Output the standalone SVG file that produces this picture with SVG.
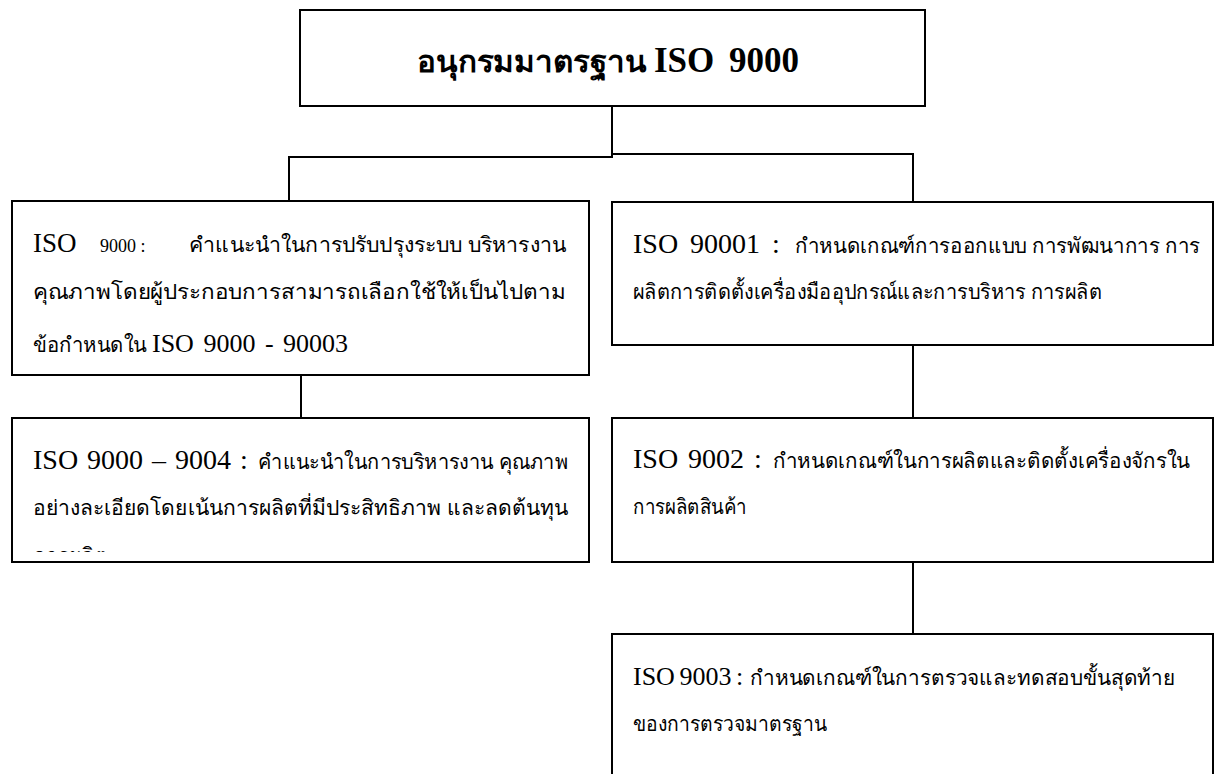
<svg xmlns="http://www.w3.org/2000/svg" width="1216" height="774" viewBox="0 0 1216 774">
<style>
.box{fill:#fff;stroke:#000;stroke-width:2}
.ln{fill:none;stroke:#000;stroke-width:2}
.lat{font-family:"Liberation Serif","DejaVu Serif",serif;fill:#000}
.th{font-family:"Liberation Serif","DejaVu Serif",serif;font-size:21px;fill:#000}
.title{font-family:"Liberation Serif","DejaVu Serif",serif;font-weight:bold;fill:#000}
</style>
<defs>
<clipPath id="clipL2"><rect x="12" y="418" width="577" height="134"/></clipPath>
<clipPath id="clipR3"><rect x="612" y="634" width="601" height="140"/></clipPath>
</defs>
<g id="connectors">
<polyline class="ln" points="612,106 612,157 289,157 289,201"/>
<polyline class="ln" points="612,154 913,154 913,202"/>
<line class="ln" x1="301" y1="375" x2="301" y2="418"/>
<line class="ln" x1="913" y1="345" x2="913" y2="418"/>
<line class="ln" x1="913" y1="562" x2="913" y2="634"/>
</g>
<g id="top">
<rect class="box" x="300" y="10" width="625" height="96"/>
<text class="title" x="417" y="72" font-size="30" textLength="230" lengthAdjust="spacingAndGlyphs">อนุกรมมาตรฐาน</text>
<text class="title" x="654" y="72" font-size="35" word-spacing="6">ISO 9000</text>
</g>
<g id="L1">
<rect class="box" x="12" y="201" width="577" height="174"/>
<text class="lat" x="33" y="252" font-size="27">ISO</text>
<text class="lat" x="100" y="252" font-size="18">9000 :</text>
<text class="th" x="189" y="252" textLength="377" lengthAdjust="spacingAndGlyphs">คำแนะนำในการปรับปรุงระบบ บริหารงาน</text>
<text class="th" x="33" y="299" textLength="533" lengthAdjust="spacingAndGlyphs">คุณภาพโดยผู้ประกอบการสามารถเลือกใช้ให้เป็นไปตาม</text>
<text class="th" x="33" y="352" textLength="114" lengthAdjust="spacingAndGlyphs">ข้อกำหนดใน</text>
<text class="lat" x="152" y="352" font-size="26" word-spacing="3">ISO 9000 - 90003</text>
</g>
<g id="L2">
<rect class="box" x="12" y="418" width="577" height="144"/>
<g clip-path="url(#clipL2)">
<text class="lat" x="33" y="469" font-size="28" word-spacing="2">ISO 9000 – 9004 :</text>
<text class="th" x="258" y="469" textLength="310" lengthAdjust="spacingAndGlyphs">คำแนะนำในการบริหารงาน คุณภาพ</text>
<text class="th" x="33" y="515" textLength="535" lengthAdjust="spacingAndGlyphs">อย่างละเอียดโดยเน้นการผลิตที่มีประสิทธิภาพ และลดต้นทุน</text>
<text class="th" x="33" y="563">การผลิต</text>
</g>
</g>
<g id="R1">
<rect class="box" x="612" y="202" width="601" height="143"/>
<text class="lat" x="633" y="253" font-size="28" word-spacing="5">ISO 90001 :</text>
<text class="th" x="795" y="253" textLength="405" lengthAdjust="spacingAndGlyphs">กำหนดเกณฑ์การออกแบบ การพัฒนาการ การ</text>
<text class="th" x="633" y="299" textLength="469" lengthAdjust="spacingAndGlyphs">ผลิตการติดตั้งเครื่องมืออุปกรณ์และการบริหาร การผลิต</text>
</g>
<g id="R2">
<rect class="box" x="612" y="418" width="601" height="144"/>
<text class="lat" x="633" y="468" font-size="28" word-spacing="3">ISO 9002 :</text>
<text class="th" x="773" y="468" textLength="417" lengthAdjust="spacingAndGlyphs">กำหนดเกณฑ์ในการผลิตและติดตั้งเครื่องจักรใน</text>
<text class="th" x="633" y="514" textLength="114" lengthAdjust="spacingAndGlyphs">การผลิตสินค้า</text>
</g>
<g id="R3">
<rect class="box" x="612" y="634" width="601" height="160"/>
<g clip-path="url(#clipR3)">
<text class="lat" x="633" y="685" font-size="26" word-spacing="-2">ISO 9003 :</text>
<text class="th" x="750" y="685" textLength="425" lengthAdjust="spacingAndGlyphs">กำหนดเกณฑ์ในการตรวจและทดสอบขั้นสุดท้าย</text>
<text class="th" x="633" y="731" textLength="194" lengthAdjust="spacingAndGlyphs">ของการตรวจมาตรฐาน</text>
</g>
</g>
</svg>
